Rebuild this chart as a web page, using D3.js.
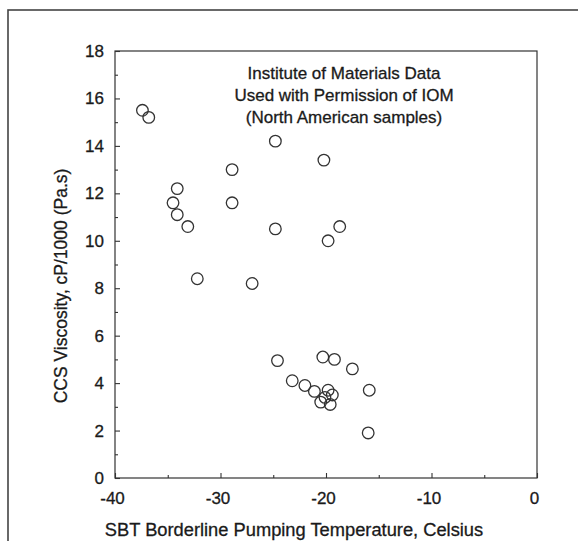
<!DOCTYPE html>
<html><head><meta charset="utf-8">
<script src="https://cdn.jsdelivr.net/npm/d3@7"></script>
<style>body{margin:0;background:#fff}svg{display:block}text{font-family:"Liberation Sans",Arial,sans-serif;fill:#1a1a1a;stroke:#1a1a1a;stroke-width:0.3px}</style>
</head><body>
<svg id="c" width="578" height="541"></svg>
<script>
const sbtTemp = [-37.4,-36.8,-34.1,-34.5,-34.1,-33.1,-32.2,-28.9,-28.9,-27.0,-24.8,-24.8,-20.2,-19.8,-18.7,
  -24.6,-20.3,-19.2,-17.5,-23.2,-22.0,-21.1,-19.8,-19.4,-20.1,-20.5,-19.6,-15.9,-16.0];
const ccsVisc = [15.5,15.2,12.2,11.6,11.1,10.6,8.4,13.0,11.6,8.2,14.2,10.5,13.4,10.0,10.6,
  4.95,5.1,5.0,4.6,4.1,3.9,3.65,3.7,3.5,3.4,3.2,3.1,3.7,1.9];
const xTicks = [-40,-30,-20,-10,0];
const xMinor = [-35,-25,-15,-5];
const yTicks = [0,2,4,6,8,10,12,14,16,18];
const yMinor = [1,3,5,7,9,11,13,15,17];
const annotation = ["Institute of Materials Data","Used with Permission of IOM","(North American samples)"];
const xTitle = "SBT Borderline Pumping Temperature, Celsius";
const yTitle = "CCS Viscosity, cP/1000 (Pa.s)";

const svg = d3.select("#c");
const L=115,R=537,T=51,B=478;
const x = d3.scaleLinear().domain([-40,0]).range([L,R]);
const y = d3.scaleLinear().domain([0,18]).range([B,T]);
const ink="#333";
const fmt = d => String(d);

svg.append("rect").attr("x",8).attr("y",10).attr("width",580).attr("height",550)
  .attr("fill","none").attr("stroke","#444").attr("stroke-width",1.6);

svg.append("rect").attr("x",L).attr("y",T).attr("width",R-L).attr("height",B-T)
  .attr("fill","none").attr("stroke",ink).attr("stroke-width",1.2);

const xAx = svg.append("g").attr("transform",`translate(0,${B})`)
  .call(d3.axisBottom(x).tickValues(xTicks).tickSize(-5).tickPadding(10).tickFormat(fmt));
const xAxm = svg.append("g").attr("transform",`translate(0,${B})`)
  .call(d3.axisBottom(x).tickValues(xMinor).tickSize(-3).tickFormat(""));
const yAx = svg.append("g").attr("transform",`translate(${L},0)`)
  .call(d3.axisLeft(y).tickValues(yTicks).tickSize(-5).tickPadding(11).tickFormat(fmt));
const yAxm = svg.append("g").attr("transform",`translate(${L},0)`)
  .call(d3.axisLeft(y).tickValues(yMinor).tickSize(-3).tickFormat(""));
[xAx,xAxm,yAx,yAxm].forEach(g=>{
  g.select(".domain").remove();
  g.selectAll(".tick line").attr("stroke",ink).attr("stroke-width",1.1);
  g.selectAll("text").attr("font-size",17).attr("fill","#1a1a1a").style("font-family","Liberation Sans, Arial, sans-serif");
});
xAx.selectAll("text").attr("dy","0.95em").attr("dx",-3);

svg.append("g").selectAll("circle").data(sbtTemp).join("circle")
  .attr("cx",d=>x(d)).attr("cy",(d,i)=>y(ccsVisc[i])).attr("r",5.8)
  .attr("fill","none").attr("stroke",ink).attr("stroke-width",1.3);

svg.append("g").selectAll("text").data(annotation).join("text")
  .attr("x",344).attr("y",(d,i)=>79+i*22).attr("text-anchor","middle")
  .attr("font-size",17).text(d=>d);

svg.append("text").attr("x",294).attr("y",536).attr("text-anchor","middle")
  .attr("font-size",18.3).text(xTitle);
svg.append("text").attr("transform","translate(67,286) rotate(-90)").attr("text-anchor","middle")
  .attr("font-size",17.5).text(yTitle);
</script>
</body></html>
